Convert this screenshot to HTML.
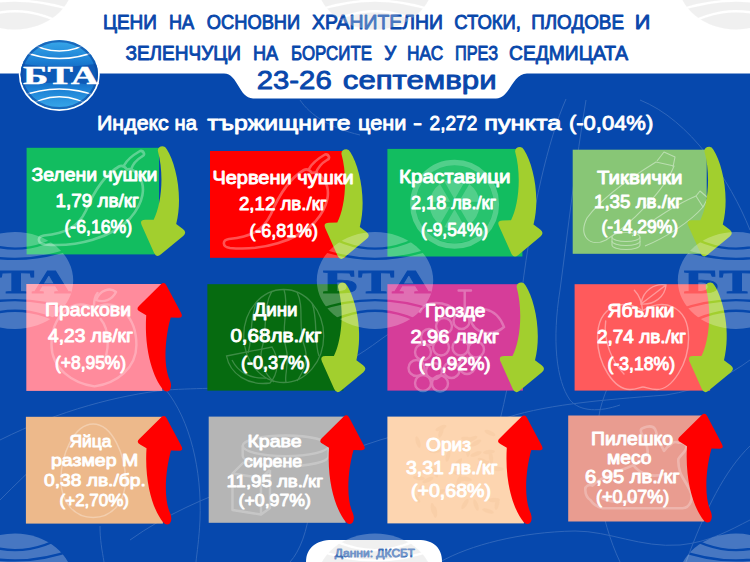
<!DOCTYPE html>
<html lang="bg"><head><meta charset="utf-8"><title>Цени на основни хранителни стоки</title>
<style>html,body{margin:0;padding:0;background:#0648ad}body{width:750px;height:562px;overflow:hidden;position:relative;font-family:"Liberation Sans",sans-serif}svg{position:absolute;left:0;top:0;display:block}text{font-family:"Liberation Sans",sans-serif;font-weight:bold}text.m{font-weight:normal;stroke-width:0.9px;stroke-linejoin:round}text.sf{font-family:"Liberation Serif",serif}</style></head><body>
<svg width="750" height="562" viewBox="0 0 750 562">
<defs>
<linearGradient id="lg" x1="0" y1="0" x2="0" y2="1"><stop offset="0" stop-color="#39a9ea"/><stop offset="0.3" stop-color="#1b7fd4"/><stop offset="0.5" stop-color="#0f5bb8"/><stop offset="0.7" stop-color="#1b7fd4"/><stop offset="1" stop-color="#39a9ea"/></linearGradient>
<clipPath id="lclip"><ellipse cx="0" cy="0" rx="38.7" ry="34.7"/></clipPath>
<clipPath id="wclip"><ellipse cx="0" cy="0" rx="40.5" ry="35.5"/></clipPath>
<mask id="wmask"><rect x="-45" y="-40" width="90" height="80" fill="#000"/><ellipse cx="0" cy="0" rx="40.5" ry="36.5" fill="#fff"/><g fill="none" stroke="#000" stroke-width="1.8"><path d="M-42,-25 Q0,-7.5 42,-25"/><path d="M-42,-40 Q0,-8 42,-40"/><path d="M-42,23 Q0,6.5 42,23"/><path d="M-42,38 Q0,7.5 42,38"/></g><text x="-36.4" y="9.1" class="sf" font-size="26" fill="#000" stroke="#000" stroke-width="0.6" textLength="75.5" lengthAdjust="spacingAndGlyphs">БТА</text></mask>
<g id="wmshape"><rect x="-45" y="-40" width="90" height="80" mask="url(#wmask)"/></g>
<path id="ad" d="M-5,4.5 Q-5,0 0,0 Q2.5,0 4,3 C13,17 20.5,50 13.4,77.7 L20.1,82.7 Q24.5,86 20.4,89.6 L-1.8,108 Q-6.3,112 -8.8,106.5 L-21.1,79 Q-23.5,73.5 -17.5,73.5 L-9.1,73.4 C-2,60 2,30 -5,4.5 Z"/>
<path id="au" d="M-3.5,1.4 Q0,-2 2.3,2.4 L16.9,30.1 Q19.5,35 14,34.8 L6.5,34.6 C1.5,52 -1.8,82 6,98 Q8,104 5.3,107.5 Q2,110 -1.2,106.5 C-10,96 -20.3,70 -18,32.3 L-24,28.7 Q-29,26.5 -25,22.7 Z"/>
<clipPath id="whclip"><path d="M0,0 H750 V73.6 H527 C512,73.6 510,98.5 496,98.5 H253 C239,98.5 238,73.6 224,73.6 H0 Z"/><path d="M306,562 C306,548 316,540 332,540 H418 C434,540 442,548 442,562 Z"/></clipPath>
</defs>
<rect width="750" height="562" fill="#0648ad"/>
<g fill="none" stroke="#fff" stroke-width="1" opacity="0.16"><path d="M586,100 C576,160 568,230 560,290 C552,340 556,380 570,400 C580,412 600,412 620,405"/><path d="M566,99 C548,140 532,210 522,290 C518,330 510,380 500,420"/><path d="M380,440 C430,425 470,425 500,420 C540,405 600,400 666,395 C700,390 730,375 750,360"/><path d="M750,446 C725,470 705,510 686,562"/><path d="M440,562 C470,545 520,532 575,531 C610,531 640,548 680,545 C710,542 730,530 750,520"/><path d="M0,440 C60,410 120,395 166,390 C200,388 230,388 250,388 C300,386 340,370 380,340 C420,310 470,300 500,290"/><path d="M166,390 C190,420 202,470 200,520 C199,540 197,552 196,562"/><path d="M100,526 C100,540 102,550 104,562"/><path d="M300,100 C310,115 330,128 360,135"/><path d="M640,100 C690,120 730,180 750,230"/><path d="M660,290 C640,330 610,370 600,410 C590,460 600,520 620,562"/><path d="M130,540 C200,490 290,470 380,440"/><path d="M290,562 C310,540 320,480 300,430"/><path d="M0,500 C30,470 60,440 100,420"/></g>
<path d="M0,0 H750 V73.6 H527 C512,73.6 510,98.5 496,98.5 H253 C239,98.5 238,73.6 224,73.6 H0 Z" fill="#fff"/>
<rect x="26.6" y="147.8" width="132.4" height="106.6" fill="#12bd60"/>
<rect x="210" y="151" width="135" height="106.8" fill="#ff0000"/>
<rect x="387.4" y="148.9" width="135" height="107.6" fill="#12bd60"/>
<rect x="572.7" y="149.7" width="134" height="104.1" fill="#88c676"/>
<rect x="26.3" y="284" width="136" height="106.9" fill="#ff8b9c"/>
<rect x="207.4" y="284.2" width="136" height="106.4" fill="#066b10"/>
<rect x="387.4" y="284.2" width="135.5" height="106.4" fill="#d63d99"/>
<rect x="574.6" y="284.2" width="135.5" height="106.4" fill="#ff5a5c"/>
<rect x="25.9" y="416.8" width="137" height="106.8" fill="#edb98b"/>
<rect x="208.7" y="416.6" width="137" height="106.2" fill="#b5b5b5"/>
<rect x="387.4" y="416.6" width="136.5" height="106.8" fill="#fdd5b0"/>
<rect x="568.2" y="415.5" width="136" height="106" fill="#e99c90"/>
<g fill="none" stroke="#fff" stroke-width="2.6" stroke-linejoin="round" stroke-linecap="round" opacity="0.32"><path d="M304,170 C290,178 279,195 271,214 C263,231 250,237 229,239 C222,240 222,247 230,248 C262,251 297,241 315,222 C329,206 331,190 324,180 Q318,171 312,173 Q308,168 304,170 Z"/><path d="M309,169 C312,163 319,158 325,154.5 Q328,154 329,157 Q329.5,159 327,160 C322,163 318,167 316,173"/></g>
<g fill="none" stroke="#fff" stroke-width="2.6" stroke-linejoin="round" stroke-linecap="round" opacity="0.32" transform="translate(-185,-3.5)"><path d="M304,170 C290,178 279,195 271,214 C263,231 250,237 229,239 C222,240 222,247 230,248 C262,251 297,241 315,222 C329,206 331,190 324,180 Q318,171 312,173 Q308,168 304,170 Z"/><path d="M309,169 C312,163 319,158 325,154.5 Q328,154 329,157 Q329.5,159 327,160 C322,163 318,167 316,173"/></g>
<g opacity="0.27"><circle cx="454.6" cy="204.3" r="41.8" fill="none" stroke="#fff" stroke-width="5.4"/></g>
<circle cx="454.6" cy="204.3" r="39" fill="#fff" opacity="0.09"/>
<g fill="#fff" opacity="0.2"><path d="M454.6,199.3 L444.4,181.5 Q454.6,177.3 464.8,181.5 Z"/><path d="M458.9,201.8 L469.3,184.1 Q478.0,190.8 479.5,201.7 Z"/><path d="M458.9,206.8 L479.5,206.9 Q478.0,217.8 469.3,224.5 Z"/><path d="M454.6,209.3 L464.8,227.1 Q454.6,231.3 444.4,227.1 Z"/><path d="M450.3,206.8 L439.9,224.5 Q431.2,217.8 429.7,206.9 Z"/><path d="M450.3,201.8 L429.7,201.7 Q431.2,190.8 439.9,184.1 Z"/></g>
<g fill="none" stroke="#fff" stroke-width="1.1" opacity="0.42" stroke-linejoin="round"><path d="M587,218 C600,200 630,178 656,162 L674,166 C665,190 630,225 606,240 C590,248 578,236 587,218 Z"/><path d="M657,161 L664,152 L675,157 L673,167"/><path d="M632,236 C650,222 675,205 696,196 L703,207 C690,222 665,238 645,246"/><path d="M696,196 L700,191 L708,198 L703,207"/><ellipse cx="626" cy="237" rx="14" ry="4.5"/><path d="M612,237 V241 A14,4.5 0 0 0 640,241 V237"/><path d="M612,241 V245 A14,4.5 0 0 0 640,245 V241"/></g>
<g fill="none" stroke="#fff" stroke-width="2.4" opacity="0.27" stroke-linecap="round" stroke-linejoin="round"><path d="M94,308 C70,296 51.5,318 51.5,345 C51.5,368 72,383 94.5,386.4 C117,383 136.4,368 136.4,345 C136.4,318 118,296 94,308 Z"/><path d="M100.6,319 C110,330 110,352 101.6,366"/><path d="M94,306 C94,300 95,296 97.5,293"/><path d="M96,300 C100,290 110,287 116,292 C112,300 104,303 96,300 Z"/></g>
<g fill="none" stroke="#fff" stroke-width="1.3" opacity="0.22"><ellipse cx="283.7" cy="336" rx="40" ry="46.5"/><path d="M272,291 C262,308 268,328 262,348 C258,363 266,375 274,382"/><path d="M284,289.5 C290,308 280,328 286,348 C290,363 284,375 286,382.5"/><path d="M297,292 C305,308 297,328 305,348 C309,363 301,375 297,381"/><path d="M257,301 C249,318 253,338 248,353"/><path d="M312,303 C318,318 314,343 319,356"/><path d="M226.5,356 L272,347 C280,360 278,374 270,383 C248,386 230,374 226.5,356 Z" /><path d="M232,360 C238,372 250,379 266,378"/></g>
<g fill="none" stroke="#fff" stroke-width="2.4" opacity="0.28" stroke-linecap="round"><circle cx="444" cy="326" r="8"/><circle cx="461.5" cy="321" r="8"/><circle cx="429" cy="337" r="8"/><circle cx="441" cy="347.5" r="8"/><circle cx="460.5" cy="347.5" r="8"/><circle cx="476" cy="349.5" r="8"/><circle cx="423" cy="352" r="8"/><circle cx="416.5" cy="368" r="8"/><circle cx="434" cy="371" r="8"/><circle cx="451.5" cy="370" r="8"/><circle cx="467" cy="366" r="8"/><circle cx="423" cy="383" r="8"/><circle cx="440" cy="383.5" r="8"/><path d="M458.6,290.5 H471 M464.7,290.5 V313"/><path d="M470,318 C474,304 496,306 504,327 C494,336 474,336 470,318 Z"/><path d="M458,312 C445,300 425,300 420,312"/></g>
<g fill="none" stroke="#fff" stroke-width="1.4" opacity="0.38" stroke-linecap="round"><path d="M642.6,310.7 C625,298 597.5,304 597.5,338 C597.5,364 614,389.5 630,389.5 C637,389.5 640,387 643,387 C646,387 650,389.5 657,389.5 C672,389.5 688.6,364 688.6,338 C688.6,304 661,298 642.6,310.7 Z"/><path d="M642.6,310.7 C642,302 639,295 634.4,290.2"/><path d="M641,304 C643,290 655,283 666,285 C665,297 654,305 641,304 Z M641,304 L666,285"/><path d="M605.7,321 C603,340 612,362 624,374"/></g>
<g fill="none" stroke="#fff" stroke-width="1.5" opacity="0.3"><path d="M93.2,424 C112,424 125.5,455 125.5,480 C125.5,503 111,517.5 93.2,517.5 C75,517.5 60.9,503 60.9,480 C60.9,455 74,424 93.2,424 Z"/></g>
<g fill="none" stroke="#fff" stroke-width="2.4" opacity="0.24" stroke-linejoin="round"><ellipse cx="285.7" cy="445.8" rx="43" ry="10.3"/><path d="M242.7,445.8 V456 A43,10.3 0 0 0 328.7,456 V445.8"/><path d="M244,462 L232.5,473.5 V510 L261,514.5 L270,508 V470"/><path d="M232.5,473.5 L261,478 V514.5 M261,478 L270,470"/></g>
<g fill="#f6c9a0" opacity="0.45"><ellipse cx="435" cy="472" rx="6" ry="2.2" transform="rotate(67 435 472)"/><ellipse cx="466" cy="479" rx="6" ry="2.2" transform="rotate(12 466 479)"/><ellipse cx="416" cy="498" rx="6" ry="2.2" transform="rotate(47 416 498)"/><ellipse cx="435" cy="512" rx="6" ry="2.2" transform="rotate(85 435 512)"/><ellipse cx="486" cy="466" rx="6" ry="2.2" transform="rotate(115 486 466)"/><ellipse cx="428" cy="480" rx="6" ry="2.2" transform="rotate(156 428 480)"/><ellipse cx="459" cy="489" rx="6" ry="2.2" transform="rotate(121 459 489)"/><ellipse cx="420" cy="491" rx="6" ry="2.2" transform="rotate(106 420 491)"/><ellipse cx="441" cy="428" rx="6" ry="2.2" transform="rotate(156 441 428)"/><ellipse cx="455" cy="488" rx="6" ry="2.2" transform="rotate(158 455 488)"/><ellipse cx="476" cy="505" rx="6" ry="2.2" transform="rotate(71 476 505)"/><ellipse cx="483" cy="464" rx="6" ry="2.2" transform="rotate(168 483 464)"/><ellipse cx="490" cy="433" rx="6" ry="2.2" transform="rotate(24 490 433)"/><ellipse cx="433" cy="509" rx="6" ry="2.2" transform="rotate(79 433 509)"/><ellipse cx="468" cy="451" rx="6" ry="2.2" transform="rotate(91 468 451)"/><ellipse cx="448" cy="456" rx="6" ry="2.2" transform="rotate(105 448 456)"/><ellipse cx="465" cy="504" rx="6" ry="2.2" transform="rotate(123 465 504)"/><ellipse cx="494" cy="500" rx="6" ry="2.2" transform="rotate(178 494 500)"/><ellipse cx="472" cy="439" rx="6" ry="2.2" transform="rotate(155 472 439)"/><ellipse cx="497" cy="504" rx="6" ry="2.2" transform="rotate(102 497 504)"/><ellipse cx="476" cy="443" rx="6" ry="2.2" transform="rotate(150 476 443)"/><ellipse cx="464" cy="450" rx="6" ry="2.2" transform="rotate(11 464 450)"/><ellipse cx="488" cy="511" rx="6" ry="2.2" transform="rotate(16 488 511)"/><ellipse cx="483" cy="461" rx="6" ry="2.2" transform="rotate(27 483 461)"/><ellipse cx="440" cy="492" rx="6" ry="2.2" transform="rotate(157 440 492)"/><ellipse cx="419" cy="478" rx="6" ry="2.2" transform="rotate(8 419 478)"/><ellipse cx="476" cy="454" rx="6" ry="2.2" transform="rotate(159 476 454)"/><ellipse cx="498" cy="469" rx="6" ry="2.2" transform="rotate(180 498 469)"/><ellipse cx="441" cy="432" rx="6" ry="2.2" transform="rotate(108 441 432)"/><ellipse cx="418" cy="442" rx="6" ry="2.2" transform="rotate(73 418 442)"/><ellipse cx="467" cy="439" rx="6" ry="2.2" transform="rotate(8 467 439)"/><ellipse cx="489" cy="452" rx="6" ry="2.2" transform="rotate(173 489 452)"/><ellipse cx="491" cy="458" rx="6" ry="2.2" transform="rotate(83 491 458)"/><ellipse cx="459" cy="481" rx="6" ry="2.2" transform="rotate(107 459 481)"/><ellipse cx="463" cy="479" rx="6" ry="2.2" transform="rotate(169 463 479)"/><ellipse cx="458" cy="463" rx="6" ry="2.2" transform="rotate(130 458 463)"/><ellipse cx="435" cy="451" rx="6" ry="2.2" transform="rotate(176 435 451)"/><ellipse cx="459" cy="473" rx="6" ry="2.2" transform="rotate(2 459 473)"/></g>
<g fill="none" stroke="#fff" stroke-width="2.6" opacity="0.26" stroke-linejoin="round" stroke-linecap="round"><path d="M585.3,490 C585,486 589,484 592.5,485.7 C598,480 606,476 613,473.4 C620,470 628,468 633.4,465.2 C640,462 646,458 647.7,453 C648,447 645,441 643.6,436.6 C640,432 640,429 643,428 C648,426 653,426 655,429 C657,433 657,436 658,438.6 C660,443 662,447 664,450.9 C666,448 668,446 670.3,444.8 C673,442 676,441.5 678.4,442.7 C682,442 686,444 686.6,446.8 C686,452 680,455 678.4,459 C678,464 679,469 680.5,473.4 C683,479 687,484 689.7,489.8 C692,494 692,499 690.7,502 C689,506 686,508 682.5,508.2 H602.7 C597,507 593,504 590.4,500 C587,498 585.5,494 585.3,490 Z"/><path d="M633.4,465.2 C640,474 652,478 664,474"/><path d="M602,498 C612,503 626,503 636,498"/></g>
<use href="#ad" x="162.8" y="146.3" fill="#a2cf2e"/>
<use href="#ad" x="346.4" y="149.2" fill="#a2cf2e"/>
<use href="#ad" x="520.1" y="146.9" fill="#a2cf2e"/>
<use href="#ad" x="709.4" y="146.8" fill="#a2cf2e"/>
<use href="#au" x="164.2" y="283.0" fill="#ff0000"/>
<use href="#ad" x="343" y="282.6" fill="#a2cf2e"/>
<use href="#ad" x="521.6" y="282.6" fill="#a2cf2e"/>
<use href="#ad" x="710.6" y="282.6" fill="#a2cf2e"/>
<use href="#au" x="164.5" y="416" fill="#ff0000"/>
<use href="#au" x="347" y="415.4" fill="#ff0000"/>
<use href="#au" x="524.8" y="415.5" fill="#ff0000"/>
<use href="#au" x="705" y="413.9" fill="#ff0000"/>
<path d="M306,562 C306,548 316,540 332,540 H418 C434,540 442,548 442,562 Z" fill="#fff"/>
<g clip-path="url(#whclip)">
<g transform="translate(15,-19) scale(1.437,1.329)" opacity="1" fill="#ececec"><use href="#wmshape"/></g>
<g transform="translate(15,582) scale(1.437,1.329)" opacity="1" fill="#ececec"><use href="#wmshape"/></g>
<g transform="translate(375,-19) scale(1.437,1.329)" opacity="1" fill="#ececec"><use href="#wmshape"/></g>
<g transform="translate(375,582) scale(1.437,1.329)" opacity="1" fill="#ececec"><use href="#wmshape"/></g>
<g transform="translate(736,-19) scale(1.437,1.329)" opacity="1" fill="#ececec"><use href="#wmshape"/></g>
<g transform="translate(736,582) scale(1.437,1.329)" opacity="1" fill="#ececec"><use href="#wmshape"/></g>
</g>
<g transform="translate(59.3,74.6) scale(1)">
<ellipse cx="0" cy="0" rx="40.5" ry="36.5" fill="#fff"/>
<ellipse cx="0" cy="0" rx="38.7" ry="34.7" fill="url(#lg)"/>
<g clip-path="url(#lclip)">
<path d="M-40,-11 Q0,-5 40,-11 V11 Q0,5 -40,11 Z" fill="#0e5ab6"/>
<g fill="none" stroke="#fff" stroke-width="1.5">
<path d="M-40,-24.5 Q0,-7.5 40,-24.5"/><path d="M-40,-39 Q0,-8 40,-39"/>
<path d="M-40,22.5 Q0,6.5 40,22.5"/><path d="M-40,37 Q0,7.5 40,37"/>
</g><ellipse cx="0" cy="0" rx="37.6" ry="33.6" fill="none" stroke="#0a4aa5" stroke-width="2.4" opacity="0.65"/></g>
<text x="-36.4" y="9.1" class="sf" font-size="26" fill="#fff" textLength="75.5" lengthAdjust="spacingAndGlyphs" stroke="#fff" stroke-width="0.5">БТА</text>
</g>
<text class="m" x="102.9" y="28.85" font-size="19.91" fill="#0847ab" stroke="#0847ab" textLength="54.1" lengthAdjust="spacingAndGlyphs">ЦЕНИ</text>
<text class="m" x="169.0" y="28.85" font-size="19.91" fill="#0847ab" stroke="#0847ab" textLength="25.2" lengthAdjust="spacingAndGlyphs">НА</text>
<text class="m" x="206.8" y="28.85" font-size="19.91" fill="#0847ab" stroke="#0847ab" textLength="93.4" lengthAdjust="spacingAndGlyphs">ОСНОВНИ</text>
<text class="m" x="312.0" y="28.85" font-size="19.91" fill="#0847ab" stroke="#0847ab" textLength="131.0" lengthAdjust="spacingAndGlyphs">ХРАНИТЕЛНИ</text>
<text class="m" x="454.2" y="28.85" font-size="19.91" fill="#0847ab" stroke="#0847ab" textLength="66.8" lengthAdjust="spacingAndGlyphs">СТОКИ,</text>
<text class="m" x="531.2" y="28.85" font-size="19.91" fill="#0847ab" stroke="#0847ab" textLength="92.8" lengthAdjust="spacingAndGlyphs">ПЛОДОВЕ</text>
<text class="m" x="634.8" y="28.85" font-size="19.91" fill="#0847ab" stroke="#0847ab" textLength="15.6" lengthAdjust="spacingAndGlyphs">И</text>
<text class="m" x="125.4" y="59.65" font-size="19.91" fill="#0847ab" stroke="#0847ab" textLength="115.6" lengthAdjust="spacingAndGlyphs">ЗЕЛЕНЧУЦИ</text>
<text class="m" x="253.0" y="59.65" font-size="19.91" fill="#0847ab" stroke="#0847ab" textLength="25.2" lengthAdjust="spacingAndGlyphs">НА</text>
<text class="m" x="291.0" y="59.65" font-size="19.91" fill="#0847ab" stroke="#0847ab" textLength="81.0" lengthAdjust="spacingAndGlyphs">БОРСИТЕ</text>
<text class="m" x="384.2" y="59.65" font-size="19.91" fill="#0847ab" stroke="#0847ab" textLength="12.0" lengthAdjust="spacingAndGlyphs">У</text>
<text class="m" x="407.0" y="59.65" font-size="19.91" fill="#0847ab" stroke="#0847ab" textLength="36.2" lengthAdjust="spacingAndGlyphs">НАС</text>
<text class="m" x="455.0" y="59.65" font-size="19.91" fill="#0847ab" stroke="#0847ab" textLength="43.0" lengthAdjust="spacingAndGlyphs">ПРЕЗ</text>
<text class="m" x="509.0" y="59.65" font-size="19.91" fill="#0847ab" stroke="#0847ab" textLength="119.2" lengthAdjust="spacingAndGlyphs">СЕДМИЦАТА</text>
<text class="m" x="256.8" y="88.95" font-size="26.45" fill="#0847ab" stroke="#0847ab" textLength="74.9" lengthAdjust="spacingAndGlyphs">23-26</text>
<text class="m" x="342.8" y="88.95" font-size="26.45" fill="#0847ab" stroke="#0847ab" textLength="153.8" lengthAdjust="spacingAndGlyphs">септември</text>
<text class="m" x="97.0" y="129.75" font-size="21.08" fill="#fff" stroke="#fff" textLength="71.8" lengthAdjust="spacingAndGlyphs">Индекс</text>
<text class="m" x="174.6" y="129.75" font-size="21.08" fill="#fff" stroke="#fff" textLength="22.4" lengthAdjust="spacingAndGlyphs">на</text>
<text class="m" x="207.2" y="129.75" font-size="21.08" fill="#fff" stroke="#fff" textLength="143.4" lengthAdjust="spacingAndGlyphs">тържищните</text>
<text class="m" x="358.0" y="129.75" font-size="21.08" fill="#fff" stroke="#fff" textLength="48.3" lengthAdjust="spacingAndGlyphs">цени</text>
<text class="m" x="413.1" y="129.75" font-size="21.08" fill="#fff" stroke="#fff" textLength="9.1" lengthAdjust="spacingAndGlyphs">-</text>
<text class="m" x="429.6" y="129.75" font-size="21.08" fill="#fff" stroke="#fff" textLength="47.7" lengthAdjust="spacingAndGlyphs">2,272</text>
<text class="m" x="484.2" y="129.75" font-size="21.08" fill="#fff" stroke="#fff" textLength="77.2" lengthAdjust="spacingAndGlyphs">пункта</text>
<text class="m" x="569.0" y="129.75" font-size="21.08" fill="#fff" stroke="#fff" textLength="84.2" lengthAdjust="spacingAndGlyphs">(-0,04%)</text>
<text class="m" x="31.4" y="180.65" font-size="17.73" fill="#fff" stroke="#fff" textLength="126.0" lengthAdjust="spacingAndGlyphs">Зелени чушки</text>
<text class="m" x="55.6" y="206.85" font-size="17.73" fill="#fff" stroke="#fff" textLength="83.4" lengthAdjust="spacingAndGlyphs">1,79 лв/кг</text>
<text class="m" x="64.4" y="232.95" font-size="17.73" fill="#fff" stroke="#fff" textLength="67.8" lengthAdjust="spacingAndGlyphs">(-6,16%)</text>
<text class="m" x="212.4" y="183.95" font-size="17.73" fill="#fff" stroke="#fff" textLength="141.2" lengthAdjust="spacingAndGlyphs">Червени чушки</text>
<text class="m" x="239.0" y="209.95" font-size="17.73" fill="#fff" stroke="#fff" textLength="87.6" lengthAdjust="spacingAndGlyphs">2,12 лв./кг</text>
<text class="m" x="249.4" y="236.95" font-size="17.73" fill="#fff" stroke="#fff" textLength="68.6" lengthAdjust="spacingAndGlyphs">(-6,81%)</text>
<text class="m" x="399.0" y="182.55" font-size="17.73" fill="#fff" stroke="#fff" textLength="111.6" lengthAdjust="spacingAndGlyphs">Краставици</text>
<text class="m" x="411.0" y="208.95" font-size="17.73" fill="#fff" stroke="#fff" textLength="85.0" lengthAdjust="spacingAndGlyphs">2,18 лв./кг</text>
<text class="m" x="421.0" y="235.95" font-size="17.73" fill="#fff" stroke="#fff" textLength="67.0" lengthAdjust="spacingAndGlyphs">(-9,54%)</text>
<text class="m" x="597.0" y="183.55" font-size="17.44" fill="#fff" stroke="#fff" textLength="85.4" lengthAdjust="spacingAndGlyphs">Тиквички</text>
<text class="m" x="594.0" y="207.55" font-size="17.44" fill="#fff" stroke="#fff" textLength="88.0" lengthAdjust="spacingAndGlyphs">1,35 лв./кг</text>
<text class="m" x="601.4" y="233.15" font-size="17.44" fill="#fff" stroke="#fff" textLength="76.6" lengthAdjust="spacingAndGlyphs">(-14,29%)</text>
<text class="m" x="45.0" y="316.25" font-size="17.59" fill="#fff" stroke="#fff" textLength="86.0" lengthAdjust="spacingAndGlyphs">Праскови</text>
<text class="m" x="48.0" y="342.25" font-size="17.59" fill="#fff" stroke="#fff" textLength="85.0" lengthAdjust="spacingAndGlyphs">4,23 лв/кг</text>
<text class="m" x="55.0" y="368.85" font-size="17.59" fill="#fff" stroke="#fff" textLength="71.1" lengthAdjust="spacingAndGlyphs">(+8,95%)</text>
<text class="m" x="253.4" y="316.25" font-size="17.59" fill="#fff" stroke="#fff" textLength="44.2" lengthAdjust="spacingAndGlyphs">Дини</text>
<text class="m" x="230.4" y="342.25" font-size="17.59" fill="#fff" stroke="#fff" textLength="91.2" lengthAdjust="spacingAndGlyphs">0,68лв./кг</text>
<text class="m" x="241.0" y="369.45" font-size="17.59" fill="#fff" stroke="#fff" textLength="69.0" lengthAdjust="spacingAndGlyphs">(-0,37%)</text>
<text class="m" x="425.0" y="316.85" font-size="17.59" fill="#fff" stroke="#fff" textLength="60.5" lengthAdjust="spacingAndGlyphs">Грозде</text>
<text class="m" x="410.4" y="342.85" font-size="17.59" fill="#fff" stroke="#fff" textLength="88.6" lengthAdjust="spacingAndGlyphs">2,96 лв/кг</text>
<text class="m" x="418.6" y="369.85" font-size="17.59" fill="#fff" stroke="#fff" textLength="72.0" lengthAdjust="spacingAndGlyphs">(-0,92%)</text>
<text class="m" x="607.6" y="316.85" font-size="17.59" fill="#fff" stroke="#fff" textLength="66.8" lengthAdjust="spacingAndGlyphs">Ябълки</text>
<text class="m" x="597.0" y="342.85" font-size="17.59" fill="#fff" stroke="#fff" textLength="89.0" lengthAdjust="spacingAndGlyphs">2,74 лв./кг</text>
<text class="m" x="607.6" y="369.85" font-size="17.59" fill="#fff" stroke="#fff" textLength="67.5" lengthAdjust="spacingAndGlyphs">(-3,18%)</text>
<text class="m" x="69.4" y="447.35" font-size="16.86" fill="#fff" stroke="#fff" textLength="42.0" lengthAdjust="spacingAndGlyphs">Яйца</text>
<text class="m" x="51.0" y="466.35" font-size="16.86" fill="#fff" stroke="#fff" textLength="87.2" lengthAdjust="spacingAndGlyphs">размер М</text>
<text class="m" x="44.0" y="486.15" font-size="16.86" fill="#fff" stroke="#fff" textLength="101.8" lengthAdjust="spacingAndGlyphs">0,38 лв./бр.</text>
<text class="m" x="59.6" y="505.55" font-size="16.86" fill="#fff" stroke="#fff" textLength="69.4" lengthAdjust="spacingAndGlyphs">(+2,70%)</text>
<text class="m" x="247.4" y="447.35" font-size="16.86" fill="#fff" stroke="#fff" textLength="54.3" lengthAdjust="spacingAndGlyphs">Краве</text>
<text class="m" x="244.0" y="466.95" font-size="16.86" fill="#fff" stroke="#fff" textLength="58.0" lengthAdjust="spacingAndGlyphs">сирене</text>
<text class="m" x="226.6" y="486.55" font-size="16.86" fill="#fff" stroke="#fff" textLength="96.4" lengthAdjust="spacingAndGlyphs">11,95 лв./кг</text>
<text class="m" x="238.6" y="505.95" font-size="16.86" fill="#fff" stroke="#fff" textLength="72.4" lengthAdjust="spacingAndGlyphs">(+0,97%)</text>
<text class="m" x="426.0" y="450.55" font-size="17.73" fill="#fff" stroke="#fff" textLength="45.0" lengthAdjust="spacingAndGlyphs">Ориз</text>
<text class="m" x="406.0" y="473.95" font-size="17.73" fill="#fff" stroke="#fff" textLength="91.6" lengthAdjust="spacingAndGlyphs">3,31 лв./кг</text>
<text class="m" x="411.0" y="496.95" font-size="17.73" fill="#fff" stroke="#fff" textLength="80.0" lengthAdjust="spacingAndGlyphs">(+0,68%)</text>
<text class="m" x="591.0" y="444.55" font-size="17.44" fill="#fff" stroke="#fff" textLength="82.0" lengthAdjust="spacingAndGlyphs">Пилешко</text>
<text class="m" x="607.0" y="463.95" font-size="17.44" fill="#fff" stroke="#fff" textLength="44.6" lengthAdjust="spacingAndGlyphs">месо</text>
<text class="m" x="585.0" y="482.95" font-size="17.44" fill="#fff" stroke="#fff" textLength="94.6" lengthAdjust="spacingAndGlyphs">6,95 лв./кг</text>
<text class="m" x="596.0" y="503.35" font-size="17.44" fill="#fff" stroke="#fff" textLength="73.1" lengthAdjust="spacingAndGlyphs">(+0,07%)</text>
<text class="m" x="334.8" y="556.85" font-size="11.77" fill="#3f6fb6" stroke="#3f6fb6" textLength="80.0" lengthAdjust="spacingAndGlyphs">Данни: ДКСБТ</text>
<g transform="translate(15,-19) scale(1.437,1.329)" opacity="0.26" fill="#fff"><use href="#wmshape"/></g>
<g transform="translate(15,280.5) scale(1.437,1.329)" opacity="0.26" fill="#fff"><use href="#wmshape"/></g>
<g transform="translate(15,582) scale(1.437,1.329)" opacity="0.26" fill="#fff"><use href="#wmshape"/></g>
<g transform="translate(375,-19) scale(1.437,1.329)" opacity="0.26" fill="#fff"><use href="#wmshape"/></g>
<g transform="translate(375,280.5) scale(1.437,1.329)" opacity="0.26" fill="#fff"><use href="#wmshape"/></g>
<g transform="translate(375,582) scale(1.437,1.329)" opacity="0.26" fill="#fff"><use href="#wmshape"/></g>
<g transform="translate(736,-19) scale(1.437,1.329)" opacity="0.26" fill="#fff"><use href="#wmshape"/></g>
<g transform="translate(736,280.5) scale(1.437,1.329)" opacity="0.26" fill="#fff"><use href="#wmshape"/></g>
<g transform="translate(736,582) scale(1.437,1.329)" opacity="0.26" fill="#fff"><use href="#wmshape"/></g>
</svg></body></html>
